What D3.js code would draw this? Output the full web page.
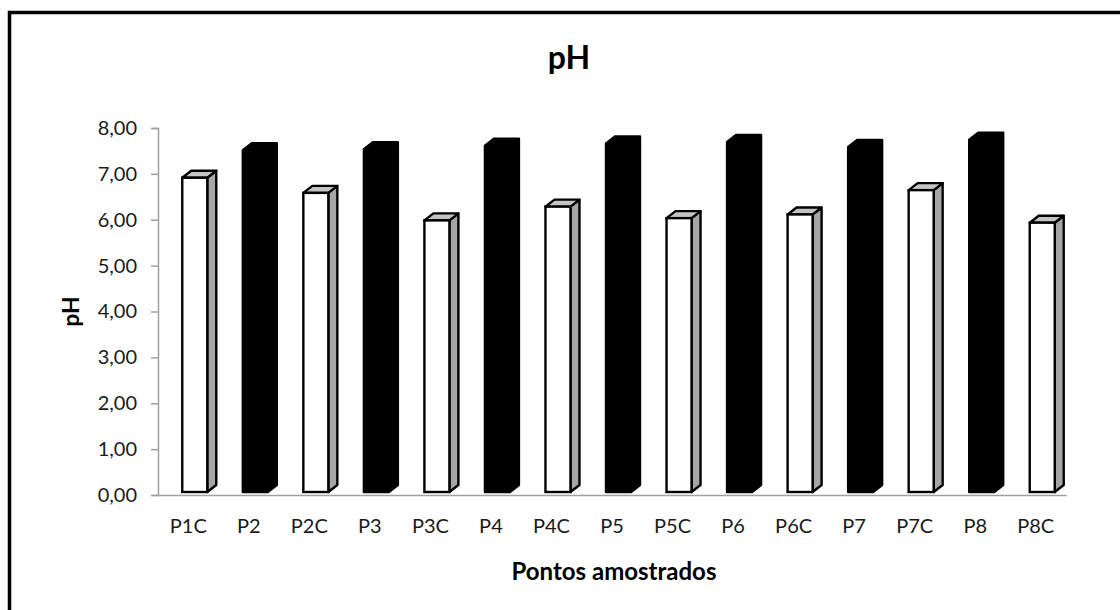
<!DOCTYPE html>
<html>
<head>
<meta charset="utf-8">
<script src="https://cdn.jsdelivr.net/npm/d3@7"></script>
<style>
  html, body { margin: 0; padding: 0; background: #fff; }
  svg { display: block; font-family: Lato, "Open Sans", sans-serif; }
</style>
</head>
<body>
<svg id="chart" width="1120" height="610"></svg>
<script>
// Sampling points (suffix "C" = control point) and measured pH
const pontos = ["P1C", "P2", "P2C", "P3", "P3C", "P4", "P4C", "P5", "P5C", "P6", "P6C", "P7", "P7C", "P8", "P8C"];
const valoresPH = [6.85, 7.45, 6.52, 7.47, 5.92, 7.55, 6.22, 7.60, 5.97, 7.63, 6.05, 7.52, 6.58, 7.68, 5.87];
const ticksPH = [0, 1, 2, 3, 4, 5, 6, 7, 8];

const titulo = "pH";
const tituloY = "pH";
const tituloX = "Pontos amostrados";

const svg = d3.select("#chart");

// outer chart frame
svg.append("rect")
  .attr("x", 9.5).attr("y", 12.5)
  .attr("width", 1300).attr("height", 800)
  .attr("fill", "none").attr("stroke", "#000").attr("stroke-width", 3.5);

const plot = { left: 158, right: 1066, top: 128, bottom: 495 };

const x = d3.scaleBand().domain(pontos).range([plot.left, plot.right]);
const y = d3.scaleLinear().domain([0, 8]).range([plot.bottom, plot.top]);

// oblique 3D depth of each column
const depthX = 9, depthY = 7;
const lift = 3;          // columns stand slightly behind the axis edge
const faceW = 25;        // front face width

// value axis
const yAxis = d3.axisLeft(y)
  .tickValues(ticksPH)
  .tickSize(7)
  .tickPadding(14)
  .tickFormat(d => d3.format(".2f")(d).replace(".", ","));

const gy = svg.append("g").attr("transform", `translate(${plot.left},0)`).call(yAxis);
gy.select(".domain").attr("stroke", "#a0a0a0").attr("stroke-width", 1.5);
gy.selectAll(".tick line").attr("stroke", "#a0a0a0").attr("stroke-width", 1.5);
gy.selectAll(".tick text")
  .attr("fill", "#1a1a1a")
  .style("font-size", "20px")
  .style("font-family", "Lato, sans-serif");

// category axis
const xAxis = d3.axisBottom(x).tickSize(0).tickPadding(24);
const gx = svg.append("g").attr("transform", `translate(0,${plot.bottom})`).call(xAxis);
gx.select(".domain").attr("stroke", "#a0a0a0").attr("stroke-width", 1.5);
gx.selectAll(".tick text")
  .attr("fill", "#1a1a1a")
  .style("font-size", "20px")
  .style("font-family", "Lato, sans-serif");

// columns
const barras = svg.append("g").attr("class", "barras")
  .selectAll("g")
  .data(pontos.map((p, i) => ({ p, v: valoresPH[i], controle: p.endsWith("C") })))
  .join("g");

barras.each(function (d) {
  const g = d3.select(this);
  const x0 = x(d.p) + x.bandwidth() / 2 - 6;
  const x1 = x0 + faceW;
  const yb = y(0) - lift;
  const yt = y(d.v) - lift;
  const pts = a => a.map(q => q.join(",")).join(" ");

  if (d.controle) {
    // side face
    g.append("polygon")
      .attr("points", pts([[x1, yb], [x1, yt], [x1 + depthX, yt - depthY], [x1 + depthX, yb - depthY]]))
      .attr("fill", "#a6a6a6").attr("stroke", "#000").attr("stroke-width", 2.4).attr("stroke-linejoin", "round");
    // top face
    g.append("polygon")
      .attr("points", pts([[x0, yt], [x0 + depthX, yt - depthY], [x1 + depthX, yt - depthY], [x1, yt]]))
      .attr("fill", "#c4c4c4").attr("stroke", "#000").attr("stroke-width", 2.4).attr("stroke-linejoin", "round");
    // front face
    g.append("rect")
      .attr("x", x0).attr("y", yt).attr("width", faceW).attr("height", yb - yt)
      .attr("fill", "#fff").attr("stroke", "#000").attr("stroke-width", 2.4);
  } else {
    // solid black column: silhouette of the whole box
    g.append("polygon")
      .attr("points", pts([[x0, yb], [x0, yt], [x0 + depthX, yt - depthY], [x1 + depthX, yt - depthY], [x1 + depthX, yb - depthY], [x1, yb]]))
      .attr("fill", "#000").attr("stroke", "#000").attr("stroke-width", 2.4).attr("stroke-linejoin", "round");
  }
});

// titles
svg.append("text")
  .attr("x", 569).attr("y", 69)
  .attr("text-anchor", "middle")
  .style("font-size", "32px").style("font-weight", "bold")
  .text(titulo);

svg.append("text")
  .attr("transform", `translate(79,${y(4)}) rotate(-90)`)
  .attr("text-anchor", "middle")
  .style("font-size", "23px").style("font-weight", "bold")
  .text(tituloY);

svg.append("text")
  .attr("x", 614).attr("y", 580)
  .attr("text-anchor", "middle")
  .style("font-size", "24px").style("font-weight", "bold")
  .text(tituloX);
</script>
</body>
</html>
